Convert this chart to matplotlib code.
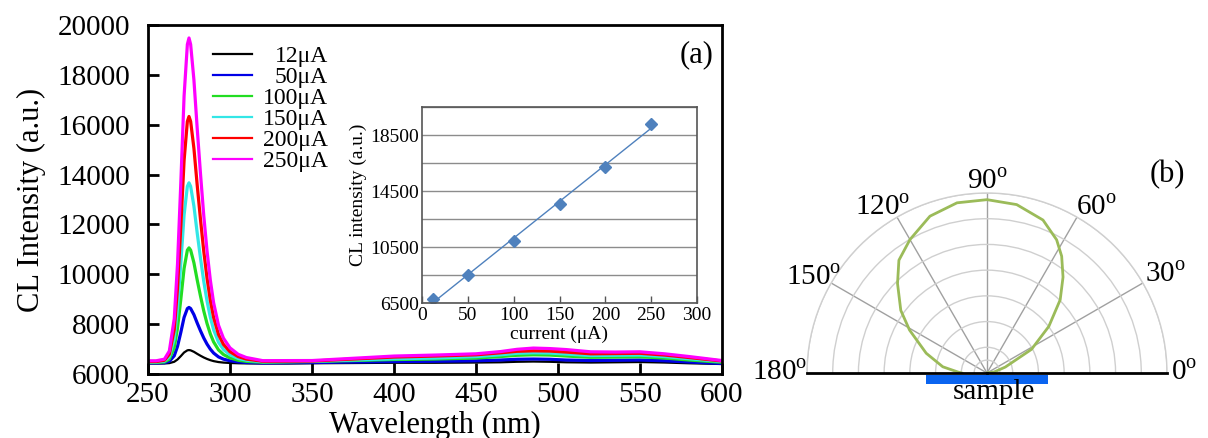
import numpy as np
import matplotlib
matplotlib.use("Agg")
import matplotlib.pyplot as plt
from matplotlib.patches import Rectangle

plt.rcParams['font.family'] = ['Liberation Serif', 'DejaVu Serif']
plt.rcParams['mathtext.fontset'] = 'custom'
plt.rcParams['mathtext.rm'] = 'Liberation Serif'

# ---------------- data ----------------
wavelength = [250, 255, 260, 263, 266, 268, 270, 272, 274, 275, 276, 278, 280, 282, 284, 286,
              288, 290, 293, 296, 300, 305, 310, 320, 335, 350, 375, 400, 425, 450, 465, 475,
              485, 495, 505, 520, 535, 550, 565, 580, 600]

i12 = [6420, 6420, 6423, 6436, 6490, 6582, 6717, 6863, 6949, 6960, 6949, 6890, 6809, 6733, 6663, 6604,
       6555, 6517, 6479, 6458, 6442, 6431, 6425, 6420, 6420, 6430, 6440, 6450, 6450, 6460, 6470, 6490,
       6500, 6490, 6470, 6460, 6470, 6480, 6460, 6430, 6400]
i50 = [6440, 6440, 6451, 6507, 6730, 7109, 7667, 8269, 8625, 8670, 8625, 8380, 8046, 7733, 7444, 7198,
       6998, 6841, 6685, 6596, 6529, 6485, 6462, 6440, 6450, 6460, 6480, 6500, 6510, 6530, 6560, 6590,
       6600, 6590, 6560, 6540, 6550, 6560, 6530, 6480, 6420]
i100 = [6460, 6460, 6483, 6598, 7058, 7840, 8990, 10232, 10968, 11060, 10968, 10462, 9772, 9128, 8530, 8024,
        7610, 7288, 6966, 6782, 6644, 6552, 6506, 6470, 6485, 6500, 6540, 6580, 6600, 6640, 6700, 6750,
        6770, 6760, 6720, 6670, 6680, 6690, 6640, 6560, 6470]
i150 = [6480, 6480, 6516, 6696, 7415, 8637, 10435, 12376, 13526, 13670, 13526, 12735, 11657, 10650, 9716, 8925,
        8278, 7774, 7271, 6983, 6768, 6624, 6552, 6490, 6500, 6510, 6560, 6610, 6640, 6700, 6770, 6830,
        6850, 6840, 6800, 6740, 6750, 6760, 6700, 6610, 6500]
i200 = [6500, 6500, 6549, 6795, 7778, 9449, 11907, 14561, 16133, 16330, 16133, 15052, 13578, 12201, 10924, 9842,
        8958, 8269, 7581, 7188, 6893, 6697, 6598, 6510, 6515, 6520, 6600, 6680, 6720, 6770, 6850, 6910,
        6930, 6920, 6880, 6810, 6820, 6830, 6760, 6660, 6520]
i250 = [6530, 6530, 6595, 6919, 8214, 10415, 13653, 17149, 19221, 19480, 19221, 17797, 15854, 14041, 12358, 10933,
        9768, 8861, 7955, 7437, 7048, 6789, 6660, 6535, 6538, 6540, 6630, 6720, 6760, 6810, 6900, 6990,
        7040, 7020, 6980, 6890, 6880, 6890, 6810, 6700, 6540]

series_labels = ['12μA', '50μA', '100μA', '150μA', '200μA', '250μA']
series_colors = ['#000000', '#0000e6', '#22dd22', '#33e6e6', '#ff0000', '#ff00ff']

current = [12, 50, 100, 150, 200, 250]
cl_peak = [6810, 8480, 10920, 13560, 16220, 19300]

angle_deg = [0, 8, 18, 28, 37, 45, 51.6, 57.4, 62.4, 69.9, 80, 90, 100, 110, 120, 128,
             135, 144, 151, 162, 172, 178, 180]
emission = [0.0, 0.04, 0.107, 0.28, 0.43, 0.575, 0.68, 0.77, 0.835, 0.905, 0.95, 0.963, 0.96, 0.927,
            0.856, 0.795, 0.703, 0.592, 0.492, 0.355, 0.248, 0.162, 0.14]
angle_ticks = [0, 30, 60, 90, 120, 150, 180]

# ---------------- figure ----------------
W, H = 1208, 438
fig = plt.figure(figsize=(W / 100, H / 100), dpi=100)

def rect(l, t, r, b):
    return [l / W, 1 - b / H, (r - l) / W, (b - t) / H]

# main axes
ax = fig.add_axes(rect(148, 25, 722, 374))
spectra = [i12, i50, i100, i150, i200, i250]
for ys, lab, col in zip(spectra, series_labels, series_colors):
    ax.plot(wavelength, ys, color=col, lw=1.6 if col == '#000000' else 2.3, label=lab)
ax.set_xlim(250, 600)
ax.set_ylim(6000, 20000)
ax.set_xticks(np.arange(250, 601, 50))
ax.set_yticks(np.arange(6000, 20001, 2000))
ax.tick_params(direction='in', length=8, width=2, labelsize=21)
ax.tick_params(axis='y', pad=13)
ax.tick_params(axis='x', pad=6)
for s in ax.spines.values():
    s.set_linewidth(2)
ax.set_xlabel('Wavelength (nm)', fontsize=22, labelpad=2)
ax.set_ylabel('CL Intensity (a.u.)', fontsize=22)
ax.yaxis.set_label_coords((46 - 148) / 574, 0.5)
ax.text(0.985, 0.955, '(a)', transform=ax.transAxes, fontsize=22, ha='right', va='top')

leg = ax.legend(loc='upper left', bbox_to_anchor=(0.097, 0.968), frameon=False, fontsize=17,
                handlelength=1.65, handletextpad=0.3, labelspacing=-0.02, borderaxespad=0)
for lh in leg.get_lines():
    lh.set_linewidth(1.6)
fig.canvas.draw()
renderer = fig.canvas.get_renderer()
exts = [t.get_window_extent(renderer) for t in leg.get_texts()]
xright = max(e.x1 for e in exts) + 4
for t, e in zip(leg.get_texts(), exts):
    t.set_alpha(0)
    fig.text(xright / W, (e.y0 + e.y1) / 2 / H, t.get_text(), fontsize=17,
             ha='right', va='center')

# inset
ins = fig.add_axes(rect(422, 107, 697, 303))
blue = '#4F81BD'
coef = np.polyfit(current, cl_peak, 1)
xf = np.array([min(current), max(current)])
ins.plot(xf, np.polyval(coef, xf), color=blue, lw=1)
ins.plot(current, cl_peak, 'D', color=blue, ms=6, mec=blue)
ins.set_xlim(0, 300)
ins.set_ylim(6500, 20500)
ins.set_xticks(np.arange(0, 301, 50))
ins.set_yticks([6500, 10500, 14500, 18500])
ins.set_yticks([8500, 12500, 16500, 20500], minor=True)
ins.yaxis.grid(True, which='both', color='#8c8c8c', lw=1)
ins.set_axisbelow(True)
ins.tick_params(axis='x', direction='in', length=5, width=1, color='#555555', labelsize=14, pad=3)
ins.tick_params(axis='y', which='both', length=0, labelsize=14, pad=2)
for s in ins.spines.values():
    s.set_color('#555555')
    s.set_linewidth(1.2)
ins.set_xlabel('current (μA)', fontsize=14, labelpad=1)
ins.set_ylabel('CL intensity (a.u.)', fontsize=14)
ins.yaxis.set_label_coords(-0.2, 0.55)

# polar
cx, cy, R = 987, 373, 180
pax = fig.add_axes(rect(cx - R, cy - 1.5 * R, cx + R, cy + 0.5 * R), projection='polar')
pax.set_thetamin(0)
pax.set_thetamax(180)
pax.set_ylim(0, 1)
pax.set_yticks(np.array([0.5, 1, 2, 3, 4, 5, 6, 7]) / 7)
pax.set_yticklabels([])
pax.set_xticks(np.deg2rad([30, 60, 90, 120, 150]))
pax.set_xticklabels([])
pax.yaxis.grid(True, color='#cfcfcf', lw=1)
pax.xaxis.grid(True, color='#a0a0a0', lw=1)
pax.spines['polar'].set_color('#cfcfcf')
pax.spines['polar'].set_linewidth(1)
for k in ('start', 'end'):
    pax.spines[k].set_color('black')
    pax.spines[k].set_linewidth(2)
pax.spines['inner'].set_visible(False)
pax.plot(np.deg2rad(angle_deg), emission, color='#9BBB59', lw=2)
pax.set_facecolor('none')

# label placement (theta in degrees, radius, horizontal alignment)
lab_pos = {0: (0, 1.02, 'left'), 30: (28.8, 1.13, 'center'), 60: (56.3, 1.10, 'center'),
           90: (90, 1.06, 'center'), 120: (122.2, 1.085, 'center'), 150: (151.1, 1.10, 'center'),
           180: (180, 1.0, 'right')}
for a in angle_ticks:
    th, rr, ha = lab_pos[a]
    pax.text(np.deg2rad(th), rr, f'{a}$^{{\\mathrm{{o}}}}$', fontsize=21, ha=ha, va='center',
             clip_on=False)

fig.add_artist(Rectangle((926 / W, 1 - 384 / H), (1048 - 926) / W, 9 / H,
                         transform=fig.transFigure, color='#0a64f0', lw=0))
fig.text(994 / W, 1 - 392 / H, 'sample', fontsize=21, ha='center', va='center')
fig.text(1167 / W, 1 - 175 / H, '(b)', fontsize=22, ha='center', va='center')

fig.savefig('out.png', dpi=100)
